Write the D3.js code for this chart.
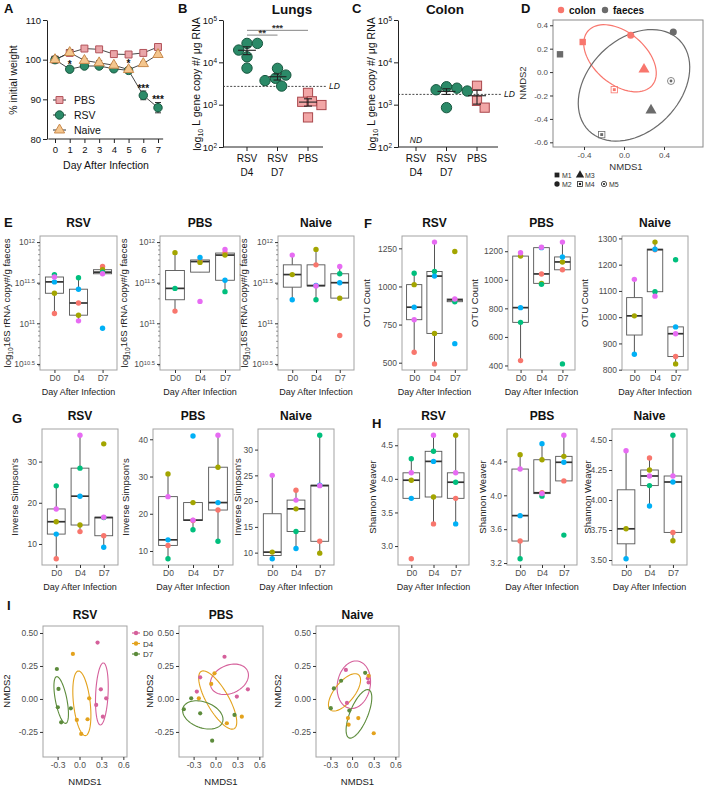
<!DOCTYPE html>
<html>
<head>
<meta charset="utf-8">
<script src="https://cdn.jsdelivr.net/npm/d3@7"></script>
<style>
body { margin: 0; background: #fff; }
svg { font-family: "Liberation Sans", Arial, sans-serif; }
</style>
</head>
<body>
<svg id="fig" width="708" height="786"></svg>
<script>
// ---- A: body weight ----
const weightDays = [0, 1, 2, 3, 4, 5, 6, 7];
const weightPBS = [100, 101.7, 102.8, 102.6, 101.4, 101.3, 101.7, 103.2];
const weightRSV = [100, 97.6, 98.4, 98.4, 97.7, 97.3, 91.0, 87.9];
const weightNaive = [100, 101.8, 99.8, 99.2, 98.6, 97.5, 99.0, 101.3];
const semPBS = [0.2, 0.5, 0.4, 0.4, 0.3, 0.3, 0.4, 0.6];
const semRSV = [0.2, 0.5, 0.4, 0.4, 0.4, 0.4, 1.1, 1.3];
const semNaive = [0.2, 0.7, 0.5, 0.6, 0.4, 0.5, 0.4, 0.4];
const weightTicks = [80, 90, 100, 110];
const weightStars = [
  { day: 1, at: 98.9, label: '*' },
  { day: 5, at: 99.1, label: '*' },
  { day: 6, at: 92.9, label: '***' },
  { day: 7, at: 90.1, label: '***' }
];

// ---- B / C: viral load ----
const viralGroups = ['RSV D4', 'RSV D7', 'PBS'];
const lungRSVD4 = [28000, 19500, 28000, 13500, 7300];
const lungRSVD7 = [7200, 5000, 3700, 4200, 2750];
const lungPBS = [1900, 1170, 1200, 980, 500];
const colonRSVD4 = [];
const colonRSVD7 = [2650, 2450, 2250, 2100, 850];
const colonPBS = [2800, 1230, 850];
const lungLD = 2700;
const colonLD = 1750;
const copyTicks = [1e2, 1e3, 1e4, 1e5];
const lungSig = [
  { from: 'RSV D4', to: 'PBS', at: 57000, label: '***' },
  { from: 'RSV D4', to: 'RSV D7', at: 44000, label: '**' }
];

// ---- D: NMDS colon vs faeces ----
const tissues = ['colon', 'faeces'];
const tissueColors = ['#F8766D', '#6b6b6b'];
const nmdsMice = ['M1', 'M2', 'M3', 'M4', 'M5'];
const colonNMDS1 = [-0.413, 0.067, 0.20, -0.097, null];
const colonNMDS2 = [0.257, 0.315, 0.024, -0.15, null];
const faecesNMDS1 = [-0.64, 0.493, 0.27, -0.223, 0.47];
const faecesNMDS2 = [0.152, 0.343, -0.326, -0.534, -0.076];
// centre x, centre y, axis u (x, y), axis v (x, y)
const tissueEllipses = [
  [-0.04, 0.118, 0.322, -0.231, -0.167, -0.17],
  [0.10, -0.113, 0.453, 0.387, 0.325, -0.278]
];
const dTicksX = [-0.4, 0, 0.4];
const dTicksY = [-0.6, -0.4, -0.2, 0, 0.2, 0.4];

// ---- E-H: per mouse values, mice order: M1..M5 ----
const dayLabels = ['D0', 'D4', 'D7'];
const mouseColors = ['#F8766D', '#A3A500', '#00BF7D', '#00B0F6', '#E76BF3'];
// log10 16S copies
const copyRSV = [[11.12, 11.37, 11.60, 11.51, 11.57], [11.25, 11.10, 11.56, 11.42, 11.03], [11.70, 11.66, 11.63, 10.94, 11.61]];
const copyPBS = [[11.15, 11.87, 11.43, null, null], [11.77, 11.75, null, 11.81, 11.27], [11.865, 11.84, 11.39, 11.53, 11.91]];
const copyNaive = [[null, 11.60, null, 11.29, 11.84], [11.72, 11.91, 11.29, 11.465, 11.46], [10.85, 11.31, 11.61, 11.50, 11.70]];
const copyTicks16S = [10.5, 11, 11.5, 12];
// OTU count
const otuRSV = [[568, 1012, 1087, 864, 782], [492, 692, 1098, 1068, 1291], [912, 1229, 900, 625, 918]];
const otuPBS = [[434, 1166, 702, 805, 1189], [1041, 975, 968, 1225, 1228], [1070, 1125, 411, 1160, 1264]];
const otuNaive = [[null, 1005, null, 859, 1144], [1257, 1286, 1097, 1259, 1080], [850, 822, 1219, 963, 937]];
const otuTicksRSV = [500, 750, 1000, 1250];
const otuTicksPBS = [400, 600, 800, 1000, 1200];
const otuTicksNaive = [800, 900, 1000, 1100, 1200, 1300];
// Inverse Simpson
const simpRSV = [[6.4, 15.4, 24.1, 12.4, 18.5], [13.0, 14.6, 28.4, 21.6, 36.4], [12.0, 34.3, 16.4, 9.2, 16.5]];
const simpPBS = [[11.5, 30.7, 7.9, 13.0, 24.6], [18.2, 23.0, 15.7, 40.9, 18.3], [21.0, 32.5, 12.6, 23.0, 41.1]];
const simpNaive = [[null, 10.1, null, 8.8, 25.0], [22.1, 18.5, 14.1, 10.8, 20.2], [12.2, 9.9, 32.8, 23.1, 23.0]];
const simpTicksRSV = [10, 20, 30];
const simpTicksPBS = [10, 20, 30, 40];
const simpTicksNaive = [10, 15, 20, 25, 30];
// Shannon Weaver
const shanRSV = [[2.81, 3.98, 4.30, 3.71, 4.09], [3.33, 3.73, 4.41, 4.26, 4.65], [3.71, 4.65, 3.95, 3.33, 4.09]];
const shanPBS = [[3.46, 4.48, 3.25, 3.76, 4.31], [4.03, 4.42, 3.99, 4.61, 4.02], [4.17, 4.46, 3.53, 4.39, 4.71]];
const shanNaive = [[null, 3.76, null, 3.51, 4.41], [4.35, 4.25, 4.12, 3.95, 4.20], [3.73, 3.66, 4.54, 4.15, 4.20]];
const shanTicksRSV = [3.0, 3.5, 4.0, 4.5];
const shanTicksPBS = [3.2, 3.6, 4.0, 4.4];
const shanTicksNaive = [3.5, 3.75, 4.0, 4.25, 4.5];

// ---- I: NMDS by day ----
const nmdsDays = ['D0', 'D4', 'D7'];
const nmdsDayColors = ['#d5609b', '#e3a21d', '#5c8b3b'];
const nmdsRSV = [
  [[0.247, 0.427], [0.292, 0.073], [0.365, 0.005], [0.228, -0.045], [0.32, -0.134]],
  [[-0.091, 0.341], [0.132, 0.005], [-0.037, -0.159], [0.11, -0.154], [0.023, -0.265]],
  [[-0.31, 0.227], [-0.288, 0.076], [-0.297, -0.063], [-0.119, -0.071], [-0.251, -0.177]]
];
const nmdsPBS = [
  [[0.123, 0.32], [-0.21, 0.164], [-0.256, 0.056], [0.292, 0.018], [0.443, 0.073]],
  [[-0.014, 0.194], [-0.059, 0.114], [-0.228, 0.005], [0.155, -0.184], [0.36, -0.134]],
  [[-0.333, 0.005], [-0.434, -0.078], [-0.21, -0.109], [0.26, -0.121], [-0.046, -0.316]]
];
const nmdsNaive = [
  [[-0.086, 0.22], [0.229, 0.125], [-0.071, -0.03], [0.219, 0.157]],
  [[0.229, 0.175], [-0.057, -0.145], [0.086, -0.145], [-0.048, -0.195], [0.30, -0.26]],
  [[0.181, 0.198], [-0.152, 0.138], [-0.252, 0.08], [-0.295, -0.07], [-0.038, -0.088]]
];
const ellRSV = [[0.306, 0.038, 0.02, 0.235, 0.085, 0], [0.032, -0.033, -0.046, 0.245, 0.115, 0], [-0.251, -0.008, -0.059, 0.177, 0.08, 0]];
const ellPBS = [[0.19, 0.149, 0.248, 0.064, -0.081, 0.096], [0.03, -0.008, 0.226, -0.217, 0.13, 0.042], [-0.174, -0.121, 0.27, -0.055, 0.06, 0.092]];
const ellNaive = [[0.024, 0.108, 0.03, 0.18, 0.23, 0], [-0.105, 0.05, 0.195, 0.133, -0.107, 0.048], [0.095, -0.113, 0.137, 0.182, -0.114, 0.026]];
const iTicksX = [-0.3, 0, 0.3, 0.6];
const iTicksY = [-0.25, 0, 0.25, 0.5];

const svg = d3.select('#fig');

function label(x, y, s, size, opts = {}) {
  const t = svg.append('text').attr('x', x).attr('y', y).attr('font-size', size)
    .attr('text-anchor', opts.anchor || 'middle').attr('fill', opts.fill || '#111').text(s);
  if (opts.bold) t.attr('font-weight', 'bold');
  if (opts.italic) t.attr('font-style', 'italic');
  if (opts.rotate) t.attr('transform', `rotate(-90,${x},${y})`);
  return t;
}

function supText(sel, base, exp) {
  sel.text(null);
  sel.append('tspan').text(base);
  sel.append('tspan').attr('dy', '-0.45em').attr('font-size', '0.68em').text(exp);
}

function styleAxis(a, col) {
  a.selectAll('line').attr('stroke', col);
  a.selectAll('path').attr('stroke', col);
  a.selectAll('text').attr('fill', col === '#222' ? '#111' : '#4d4d4d').attr('font-family', null);
}

// ---------------- A ----------------
(function drawWeight() {
  const g = svg.append('g');
  const x = d3.scaleLinear().domain([0, 7]).range([55, 158]);
  const y = d3.scaleLinear().domain([80, 110]).range([139, 20]);
  const ya = g.append('g').attr('transform', 'translate(47,0)')
    .call(d3.axisLeft(y).tickValues(weightTicks).tickSize(4).tickSizeOuter(0).tickPadding(2).tickFormat(d3.format('d')));
  ya.selectAll('text').attr('font-size', 9.5);
  styleAxis(ya, '#222');
  const xa = g.append('g').attr('transform', 'translate(0,139)')
    .call(d3.axisBottom(x).tickValues(weightDays).tickSize(4).tickPadding(3).tickFormat(d3.format('d')));
  xa.select('.domain').remove();
  xa.selectAll('text').attr('font-size', 9.5);
  styleAxis(xa, '#222');
  g.append('line').attr('x1', x(-0.45)).attr('x2', x(7.35)).attr('y1', 139).attr('y2', 139).attr('stroke', '#222');

  const series = [
    { name: 'PBS', vals: weightPBS, sem: semPBS, sym: d3.symbolSquare, size: 48, fill: '#eaa6a9', stroke: '#b2535a' },
    { name: 'RSV', vals: weightRSV, sem: semRSV, sym: d3.symbolCircle, size: 56, fill: '#2b8a68', stroke: '#17573f' },
    { name: 'Naive', vals: weightNaive, sem: semNaive, sym: d3.symbolTriangle, size: 46, fill: '#f4c68e', stroke: '#c98a4d' }
  ];
  const line = d3.line().x((d, i) => x(weightDays[i])).y(d => y(d));
  series.forEach(s => {
    g.append('path').attr('d', line(s.vals)).attr('fill', 'none').attr('stroke', '#333').attr('stroke-width', 0.9);
  });
  series.forEach(s => {
    s.vals.forEach((v, i) => {
      const cx = x(weightDays[i]);
      g.append('line').attr('x1', cx).attr('x2', cx).attr('y1', y(v - s.sem[i])).attr('y2', y(v + s.sem[i])).attr('stroke', '#333');
      [v - s.sem[i], v + s.sem[i]].forEach(e => g.append('line').attr('x1', cx - 3).attr('x2', cx + 3).attr('y1', y(e)).attr('y2', y(e)).attr('stroke', '#333'));
      g.append('path').attr('d', d3.symbol(s.sym, s.size)()).attr('transform', `translate(${cx},${y(v)})`)
        .attr('fill', s.fill).attr('stroke', s.stroke).attr('stroke-width', 1);
    });
  });
  weightStars.forEach(s => label(x(s.day), y(s.at) + 4, s.label, 10, { bold: true }));
  // legend
  series.forEach((s, i) => {
    const ly = 100 + i * 15;
    g.append('line').attr('x1', 53).attr('x2', 66).attr('y1', ly).attr('y2', ly).attr('stroke', '#333');
    g.append('path').attr('d', d3.symbol(s.sym, s.size)()).attr('transform', `translate(59.5,${ly})`)
      .attr('fill', s.fill).attr('stroke', s.stroke);
    label(74, ly + 4, s.name, 10.5, { anchor: 'start' });
  });
  label(4, 13, 'A', 13, { anchor: 'start', bold: true });
  label(17, 80, '% initial weight', 10.5, { rotate: true });
  label(106, 169, 'Day After Infection', 10.5);
})();

// ---------------- B / C ----------------
function swarm(values, yScale, r) {
  const placed = [];
  return values.map(v => ({ v, py: yScale(v) })).sort((a, b) => a.py - b.py).map(p => {
    let dx = 0;
    for (let k = 0; k < 40; k++) {
      const c = (k % 2 ? 1 : -1) * Math.ceil(k / 2) * r * 0.4;
      if (placed.every(q => Math.hypot(q.dx - c, q.py - p.py) >= 2 * r * 0.95)) { dx = c; break; }
    }
    placed.push({ dx, py: p.py });
    return { v: p.v, dx, py: p.py };
  });
}

function viralPanel(p) {
  const g = svg.append('g');
  const y = d3.scaleLog().domain([1e2, 1e5]).range([147, 20]);
  const x = d3.scalePoint().domain(viralGroups).range(p.range);
  const ya = g.append('g').attr('transform', `translate(${p.axisX},0)`)
    .call(d3.axisLeft(y).tickValues(copyTicks).tickSize(4).tickSizeOuter(0).tickPadding(2));
  ya.selectAll('.tick text').attr('font-size', 9.5).each(function (d) { supText(d3.select(this), '10', Math.round(Math.log10(d))); });
  styleAxis(ya, '#222');
  g.append('line').attr('x1', p.axisX).attr('x2', p.axisX + 100).attr('y1', 147).attr('y2', 147).attr('stroke', '#222');
  viralGroups.forEach(c => {
    g.append('line').attr('x1', x(c)).attr('x2', x(c)).attr('y1', 147).attr('y2', 151).attr('stroke', '#222');
    const parts = c.split(' ');
    parts.forEach((t, k) => label(x(c), 162 + k * 14, t, 10));
  });
  // LD
  g.append('line').attr('x1', p.axisX).attr('x2', p.axisX + 103).attr('y1', y(p.ld)).attr('y2', y(p.ld))
    .attr('stroke', '#333').attr('stroke-dasharray', '2,1.6').attr('stroke-width', 0.9);
  label(p.axisX + 106, y(p.ld) + 3, 'LD', 8.5, { anchor: 'start', italic: true });

  p.groups.forEach((vals, i) => {
    const cx = x(viralGroups[i]);
    if (!vals.length) {
      label(cx, 143, 'ND', 8.5, { italic: true });
      return;
    }
    const pbs = viralGroups[i] === 'PBS';
    const r = pbs ? 4.8 : 5.2;
    const m = d3.mean(vals), se = d3.deviation(vals) / Math.sqrt(vals.length);
    swarm(vals, y, r).forEach(pt => {
      if (pbs) {
        g.append('rect').attr('x', cx + pt.dx - 4.6).attr('y', pt.py - 4.6).attr('width', 9.2).attr('height', 9.2)
          .attr('fill', '#f2a6a6').attr('stroke', '#a9474c').attr('stroke-width', 1);
      } else {
        g.append('circle').attr('cx', cx + pt.dx).attr('cy', pt.py).attr('r', r)
          .attr('fill', '#2b8a68').attr('stroke', '#17573f').attr('stroke-width', 1);
      }
    });
    g.append('line').attr('x1', cx - 9).attr('x2', cx + 9).attr('y1', y(m)).attr('y2', y(m)).attr('stroke', '#222').attr('stroke-width', 1.1);
    g.append('line').attr('x1', cx).attr('x2', cx).attr('y1', y(m - se)).attr('y2', y(m + se)).attr('stroke', '#222').attr('stroke-width', 1.1);
    [m - se, m + se].forEach(e => g.append('line').attr('x1', cx - 4).attr('x2', cx + 4).attr('y1', y(e)).attr('y2', y(e)).attr('stroke', '#222').attr('stroke-width', 1.1));
  });
  (p.sig || []).forEach(s => {
    g.append('line').attr('x1', x(s.from)).attr('x2', x(s.to)).attr('y1', y(s.at)).attr('y2', y(s.at)).attr('stroke', '#666').attr('stroke-width', 0.8);
    label((x(s.from) + x(s.to)) / 2, y(s.at) + 1, s.label, 9.5, { bold: true, fill: '#333' });
  });
  label(p.letterX, 13, p.letter, 13, { anchor: 'start', bold: true });
  label(p.titleX, 14, p.title, 13.5, { bold: true });
  const yl = label(p.ylabX, 84, '', 10.5, { rotate: true });
  yl.append('tspan').text('log');
  yl.append('tspan').attr('dy', '0.3em').attr('font-size', '0.7em').text('10');
  yl.append('tspan').attr('dy', '-0.3em').text(' L gene copy #/ μg RNA');
}
viralPanel({ axisX: 223, range: [247, 308], groups: [lungRSVD4, lungRSVD7, lungPBS], ld: lungLD, sig: lungSig,
  letter: 'B', letterX: 178, title: 'Lungs', titleX: 292, ylabX: 201 });
viralPanel({ axisX: 398, range: [416, 477], groups: [colonRSVD4, colonRSVD7, colonPBS], ld: colonLD,
  letter: 'C', letterX: 352, title: 'Colon', titleX: 445, ylabX: 376 });

// ---------------- D ----------------
function ellipsePath(e, x, y) {
  const pts = d3.range(0, 73).map(k => {
    const t = k / 72 * 2 * Math.PI;
    return [x(e[0] + e[2] * Math.cos(t) + e[4] * Math.sin(t)), y(e[1] + e[3] * Math.cos(t) + e[5] * Math.sin(t))];
  });
  return d3.line()(pts);
}

function mouseShape(g, m, cx, cy, col, s) {
  if (m === 'M1') g.append('rect').attr('x', cx - s).attr('y', cy - s).attr('width', 2 * s).attr('height', 2 * s).attr('fill', col);
  else if (m === 'M2') g.append('circle').attr('cx', cx).attr('cy', cy).attr('r', s * 1.1).attr('fill', col);
  else if (m === 'M3') g.append('path').attr('d', d3.symbol(d3.symbolTriangle, s * s * 5.2)()).attr('transform', `translate(${cx},${cy})`).attr('fill', col);
  else if (m === 'M4') {
    g.append('rect').attr('x', cx - s).attr('y', cy - s).attr('width', 2 * s).attr('height', 2 * s).attr('fill', 'none').attr('stroke', col).attr('stroke-width', 0.8);
    g.append('rect').attr('x', cx - s * 0.45).attr('y', cy - s * 0.45).attr('width', s * 0.9).attr('height', s * 0.9).attr('fill', col);
  } else {
    g.append('circle').attr('cx', cx).attr('cy', cy).attr('r', s * 1.1).attr('fill', 'none').attr('stroke', col).attr('stroke-width', 0.8);
    g.append('circle').attr('cx', cx).attr('cy', cy).attr('r', s * 0.45).attr('fill', col);
  }
}

(function drawTissueNMDS() {
  const g = svg.append('g');
  const L = 553, R = 703, T = 20, B = 147;
  const x = d3.scaleLinear().domain([-0.71, 0.79]).range([L, R]);
  const y = d3.scaleLinear().domain([-0.64, 0.445]).range([B, T]);
  g.append('rect').attr('x', L).attr('y', T).attr('width', R - L).attr('height', B - T).attr('fill', 'none').attr('stroke', '#8a8a8a');
  const ya = g.append('g').attr('transform', `translate(${L},0)`)
    .call(d3.axisLeft(y).tickValues(dTicksY).tickSize(3).tickPadding(2).tickFormat(d => d.toFixed(1)));
  ya.select('.domain').remove();
  ya.selectAll('text').attr('font-size', 8);
  styleAxis(ya, '#333');
  const xa = g.append('g').attr('transform', `translate(0,${B})`)
    .call(d3.axisBottom(x).tickValues(dTicksX).tickSize(3).tickPadding(2).tickFormat(d => d.toFixed(1)));
  xa.select('.domain').remove();
  xa.selectAll('text').attr('font-size', 8);
  styleAxis(xa, '#333');
  tissueEllipses.forEach((e, i) => g.append('path').attr('d', ellipsePath(e, x, y)).attr('fill', 'none')
    .attr('stroke', tissueColors[i]).attr('stroke-width', 1.2));
  const coords = [[colonNMDS1, colonNMDS2], [faecesNMDS1, faecesNMDS2]];
  coords.forEach(([xs, ys], i) => {
    xs.forEach((v, j) => { if (v != null) mouseShape(g, nmdsMice[j], x(v), y(ys[j]), tissueColors[i], 3.2); });
  });
  label(521, 13, 'D', 13, { anchor: 'start', bold: true });
  tissues.forEach((t, i) => {
    const lx = [561, 605][i];
    g.append('circle').attr('cx', lx).attr('cy', 10).attr('r', 3.2).attr('fill', tissueColors[i]);
    label(lx + 8, 14, t, 10, { anchor: 'start', bold: true });
  });
  label(626, 170, 'NMDS1', 9.5, { fill: '#333' });
  label(526, 83, 'NMDS2', 9.5, { rotate: true, fill: '#333' });
  const lpos = [[557, 175], [557, 184], [580, 175], [580, 184], [604, 184]];
  nmdsMice.forEach((m, j) => {
    mouseShape(g, m, lpos[j][0], lpos[j][1], '#222', 2.4);
    label(lpos[j][0] + 5, lpos[j][1] + 2.5, m, 7, { anchor: 'start', fill: '#333' });
  });
})();

// ---------------- E-H ----------------
function boxStats(v) {
  const q1 = d3.quantile(v, 0.25), med = d3.quantile(v, 0.5), q3 = d3.quantile(v, 0.75);
  const iqr = q3 - q1;
  return { q1, med, q3, lo: d3.min(v.filter(d => d >= q1 - 1.5 * iqr)), hi: d3.max(v.filter(d => d <= q3 + 1.5 * iqr)) };
}

function boxPanel(p) {
  const g = svg.append('g');
  const x = d3.scalePoint().domain(dayLabels).range([p.left, p.right]).padding(0.6);
  const conv = p.log ? (v => 10 ** v) : (v => v);
  let y;
  if (p.log) {
    const pad = (p.limits[1] - p.limits[0]) * 0.05;
    y = d3.scaleLog().domain([10 ** (p.limits[0] - pad), 10 ** (p.limits[1] + pad)]).range([p.bottom, p.top]);
  } else {
    const ext = d3.extent(p.values.flat().filter(v => v != null));
    const pad = (ext[1] - ext[0]) * 0.05;
    y = d3.scaleLinear().domain([ext[0] - pad, ext[1] + pad]).range([p.bottom, p.top]);
  }
  g.append('rect').attr('x', p.left).attr('y', p.top).attr('width', p.right - p.left).attr('height', p.bottom - p.top)
    .attr('fill', 'none').attr('stroke', '#a3a3a3').attr('stroke-width', 1);
  const ya = g.append('g').attr('transform', `translate(${p.left},0)`)
    .call(d3.axisLeft(y).tickValues(p.ticks.map(conv)).tickSize(3).tickPadding(2)
      .tickFormat(p.log ? () => '' : (p.fmt ? d3.format(p.fmt) : d => d)));
  ya.select('.domain').remove();
  ya.selectAll('text').attr('font-size', 8.5);
  if (p.log) {
    ya.selectAll('.tick text').each(function (d) {
      const e = Math.round(Math.log10(d) * 10) / 10;
      supText(d3.select(this), '10', e);
    });
    const majors = p.ticks.map(conv);
    y.ticks().filter(t => !majors.some(m => Math.abs(Math.log10(m) - Math.log10(t)) < 1e-6)).forEach(t => {
      g.append('line').attr('x1', p.left - 2).attr('x2', p.left).attr('y1', y(t)).attr('y2', y(t)).attr('stroke', '#555').attr('stroke-width', 0.6);
    });
  }
  styleAxis(ya, '#333');
  const xa = g.append('g').attr('transform', `translate(0,${p.bottom})`)
    .call(d3.axisBottom(x).tickSize(3).tickPadding(2));
  xa.select('.domain').remove();
  xa.selectAll('text').attr('font-size', 8.5);
  styleAxis(xa, '#333');

  const w = x.step() * 0.75;
  p.values.forEach((arr, i) => {
    const v = arr.filter(d => d != null).sort(d3.ascending);
    const s = boxStats(v);
    const cx = x(dayLabels[i]);
    const Y = d => y(conv(d));
    g.append('line').attr('x1', cx).attr('x2', cx).attr('y1', Y(s.hi)).attr('y2', Y(s.q3)).attr('stroke', '#555');
    g.append('line').attr('x1', cx).attr('x2', cx).attr('y1', Y(s.q1)).attr('y2', Y(s.lo)).attr('stroke', '#555');
    g.append('rect').attr('x', cx - w / 2).attr('y', Y(s.q3)).attr('width', w).attr('height', Math.max(0.5, Y(s.q1) - Y(s.q3)))
      .attr('fill', '#fff').attr('stroke', '#555').attr('stroke-width', 0.9);
    g.append('line').attr('x1', cx - w / 2).attr('x2', cx + w / 2).attr('y1', Y(s.med)).attr('y2', Y(s.med))
      .attr('stroke', '#333').attr('stroke-width', 1.7);
  });
  p.values.forEach((arr, i) => {
    arr.forEach((v, j) => {
      if (v == null) return;
      g.append('circle').attr('cx', x(dayLabels[i])).attr('cy', y(conv(v))).attr('r', 2.7).attr('fill', mouseColors[j]);
    });
  });
  const mid = (p.left + p.right) / 2;
  label(mid, p.top - 9, p.title, 12, { bold: true });
  label(mid, p.bottom + 25, 'Day After Infection', 9, { fill: '#222' });
  const ym = (p.top + p.bottom) / 2;
  const yl = label(p.ylabX, ym, '', 9.5, { rotate: true, fill: '#222' });
  if (p.log) {
    yl.append('tspan').text('log');
    yl.append('tspan').attr('dy', '0.3em').attr('font-size', '0.7em').text('10');
    yl.append('tspan').attr('dy', '-0.3em').text('16S rRNA copy#/g faeces');
  } else {
    yl.text(p.ylab);
  }
}

const row1 = { top: 236, bottom: 370 };
const row2 = { top: 429, bottom: 565 };
[
  { title: 'RSV', values: copyRSV, left: 40, right: 117, ylabX: 11 },
  { title: 'PBS', values: copyPBS, left: 160, right: 240, ylabX: 128 },
  { title: 'Naive', values: copyNaive, left: 278, right: 354, ylabX: 248 }
].forEach(p => boxPanel(Object.assign({ log: true, limits: [10.5, 12], ticks: copyTicks16S }, row1, p)));
[
  { title: 'RSV', values: otuRSV, ticks: otuTicksRSV, left: 402, right: 467, ylabX: 370 },
  { title: 'PBS', values: otuPBS, ticks: otuTicksPBS, left: 508, right: 575, ylabX: 478 },
  { title: 'Naive', values: otuNaive, ticks: otuTicksNaive, left: 622, right: 688, ylabX: 588 }
].forEach(p => boxPanel(Object.assign({ ylab: 'OTU Count' }, row1, p)));
[
  { title: 'RSV', values: simpRSV, ticks: simpTicksRSV, left: 42, right: 118, ylabX: 18 },
  { title: 'PBS', values: simpPBS, ticks: simpTicksPBS, left: 153, right: 233, ylabX: 129 },
  { title: 'Naive', values: simpNaive, ticks: simpTicksNaive, left: 258, right: 334, ylabX: 241 }
].forEach(p => boxPanel(Object.assign({ ylab: "Inverse Simpson's" }, row2, p)));
[
  { title: 'RSV', values: shanRSV, ticks: shanTicksRSV, fmt: '.1f', left: 398, right: 469, ylabX: 376 },
  { title: 'PBS', values: shanPBS, ticks: shanTicksPBS, fmt: '.1f', left: 507, right: 577, ylabX: 486 },
  { title: 'Naive', values: shanNaive, ticks: shanTicksNaive, fmt: '.2f', left: 612, right: 687, ylabX: 591 }
].forEach(p => boxPanel(Object.assign({ ylab: 'Shannon Weaver' }, row2, p)));
label(4, 227, 'E', 13, { anchor: 'start', bold: true });
label(364, 228, 'F', 13, { anchor: 'start', bold: true });
label(12, 423, 'G', 13, { anchor: 'start', bold: true });
label(372, 428, 'H', 13, { anchor: 'start', bold: true });

// ---------------- I ----------------
function dayNMDS(p) {
  const g = svg.append('g');
  const T = 626, B = 757;
  const x = d3.scaleLinear().domain([-0.5, 0.65]).range([p.left, p.right]);
  const y = d3.scaleLinear().domain([-0.44, 0.553]).range([B, T]);
  g.append('rect').attr('x', p.left).attr('y', T).attr('width', p.right - p.left).attr('height', B - T)
    .attr('fill', 'none').attr('stroke', '#a3a3a3');
  const ya = g.append('g').attr('transform', `translate(${p.left},0)`)
    .call(d3.axisLeft(y).tickValues(iTicksY).tickSize(3).tickPadding(2).tickFormat(d => d.toFixed(2)));
  ya.select('.domain').remove();
  ya.selectAll('text').attr('font-size', 8.5);
  styleAxis(ya, '#333');
  const xa = g.append('g').attr('transform', `translate(0,${B})`)
    .call(d3.axisBottom(x).tickValues(iTicksX).tickSize(3).tickPadding(2).tickFormat(d => d.toFixed(1)));
  xa.select('.domain').remove();
  xa.selectAll('text').attr('font-size', 8.5);
  styleAxis(xa, '#333');
  p.ells.forEach((e, i) => g.append('path').attr('d', ellipsePath(e, x, y)).attr('fill', 'none')
    .attr('stroke', nmdsDayColors[i]).attr('stroke-width', 1.1));
  p.pts.forEach((set, i) => set.forEach(d => g.append('circle').attr('cx', x(d[0])).attr('cy', y(d[1])).attr('r', 2.1).attr('fill', nmdsDayColors[i])));
  const mid = (p.left + p.right) / 2;
  label(mid, 619, p.title, 12, { bold: true });
  label(mid, 785, 'NMDS1', 9.5, { fill: '#222' });
  label(p.ylabX, 691, 'NMDS2', 9.5, { rotate: true, fill: '#222' });
}
dayNMDS({ title: 'RSV', pts: nmdsRSV, ells: ellRSV, left: 43, right: 127, ylabX: 10 });
dayNMDS({ title: 'PBS', pts: nmdsPBS, ells: ellPBS, left: 179, right: 263, ylabX: 153 });
dayNMDS({ title: 'Naive', pts: nmdsNaive, ells: ellNaive, left: 316, right: 399, ylabX: 281 });
label(7, 610, 'I', 13, { anchor: 'start', bold: true });
nmdsDays.forEach((d, i) => {
  const ly = 633 + i * 10.5;
  svg.append('line').attr('x1', 132).attr('x2', 140).attr('y1', ly).attr('y2', ly).attr('stroke', nmdsDayColors[i]).attr('stroke-width', 1.2);
  svg.append('circle').attr('cx', 136).attr('cy', ly).attr('r', 2.2).attr('fill', nmdsDayColors[i]);
  label(143, ly + 3, d, 8, { anchor: 'start', fill: '#333' });
});
</script>
</body>
</html>
